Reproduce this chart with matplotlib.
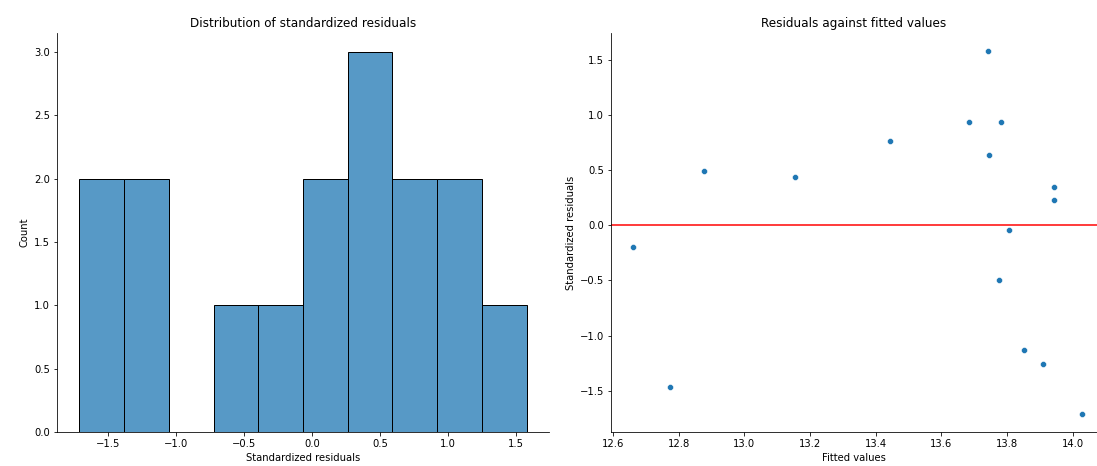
import matplotlib
matplotlib.use("Agg")
import matplotlib.pyplot as plt
import seaborn as sns
import numpy as np

# fitted values and standardized residuals
fitted = [12.662, 12.772, 12.877, 13.154, 13.442, 13.685, 13.742, 13.746,
          13.781, 13.775, 13.806, 13.852, 13.910, 13.944, 13.944, 14.027]
std_resid = [-0.20, -1.47, 0.495, 0.435, 0.765, 0.935, 1.578, 0.636,
             0.935, -0.498, -0.045, -1.134, -1.254, 0.348, 0.228, -1.71]

fig = plt.figure(figsize=(1097 / 72, 466 / 72), dpi=72)
ax1 = fig.add_axes([57 / 1097, 1 - 432 / 466, (549 - 57) / 1097, (432 - 33) / 466])
# right panel runs slightly past the image edge, as in the original crop
ax2 = fig.add_axes([611 / 1097, 1 - 432 / 466, 493 / 1097, (432 - 33) / 466])

# histogram
sns.histplot(x=std_resid, bins=10, ax=ax1, edgecolor="black", linewidth=1)
ax1.set_title("Distribution of standardized residuals")
ax1.set_xlabel("Standardized residuals")
ax1.set_ylabel("Count")

# residuals vs fitted
sns.scatterplot(x=fitted, y=std_resid, ax=ax2)
ax2.axhline(0, color="red")
ax2.set_title("Residuals against fitted values", x=(1097 - 611) / 2 / 493)
ax2.set_xlabel("Fitted values", x=(1097 - 611) / 2 / 493)
ax2.set_ylabel("Standardized residuals")

for ax in (ax1, ax2):
    ax.spines["top"].set_visible(False)
    ax.spines["right"].set_visible(False)

fig.savefig("out.png", dpi=72)
